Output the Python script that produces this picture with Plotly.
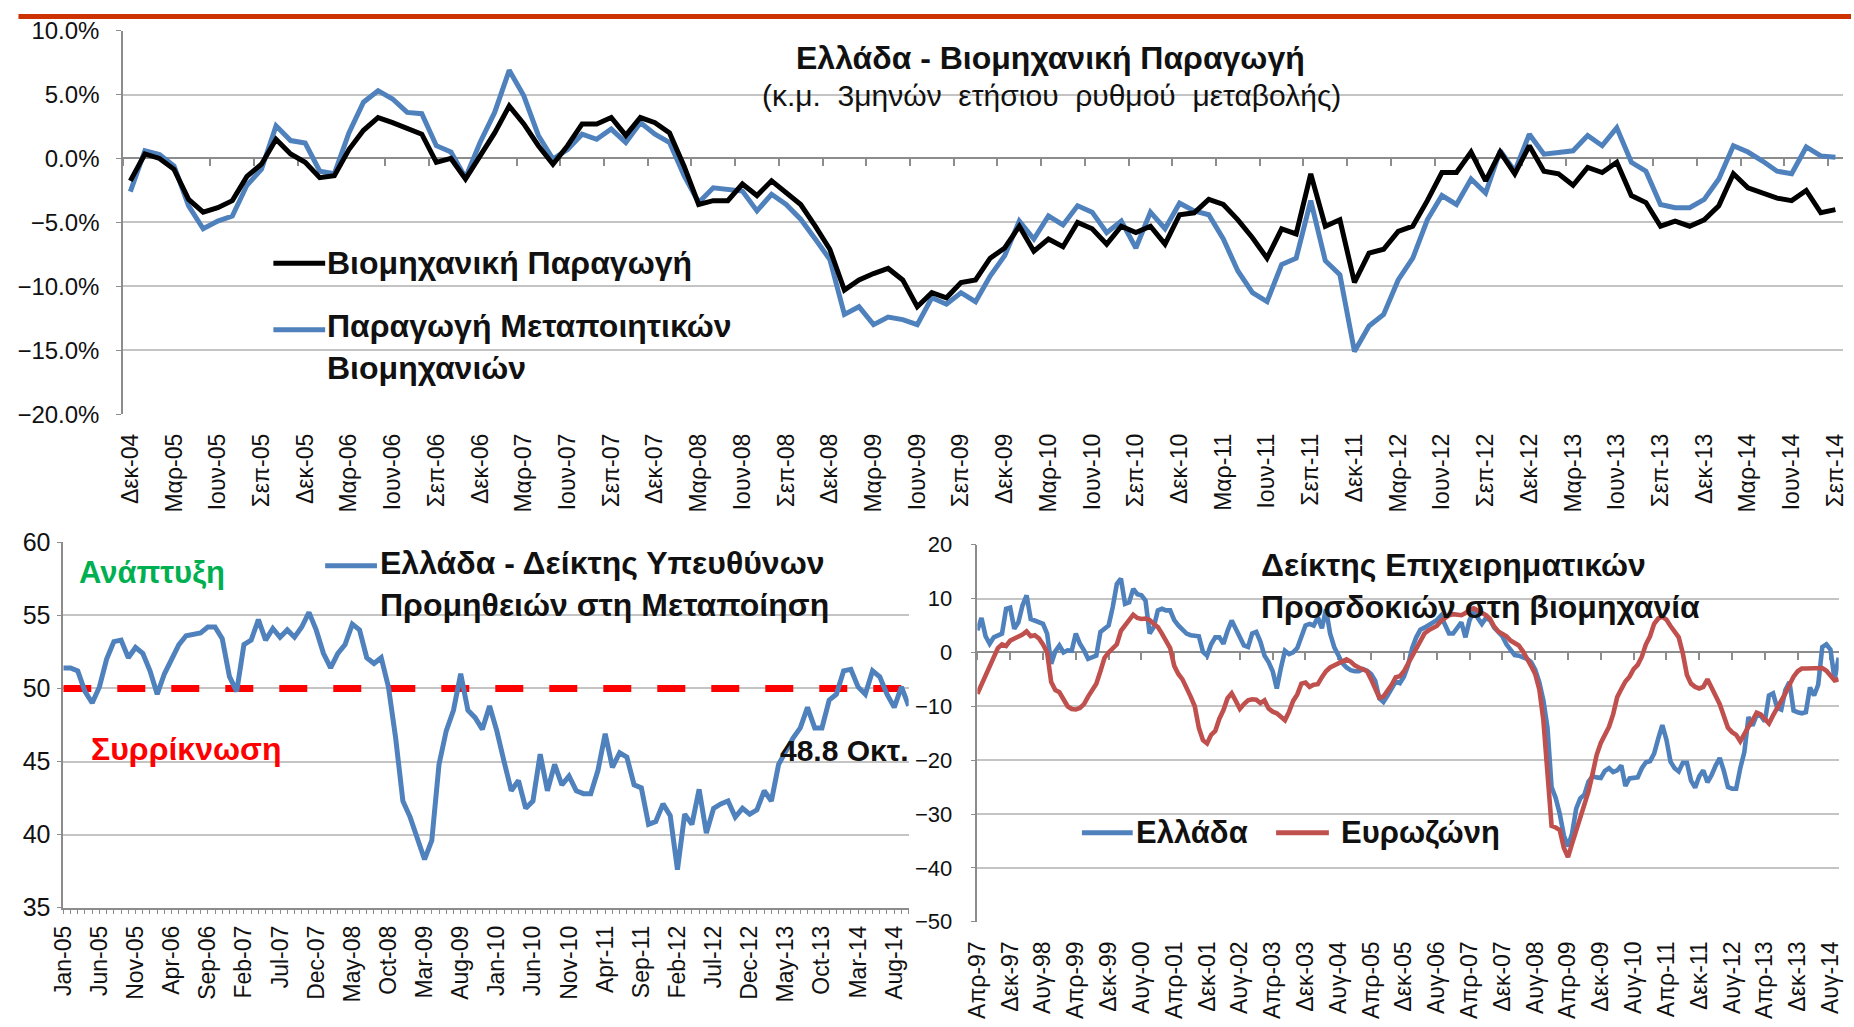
import plotly.graph_objects as go

# ---------------- DATA ----------------
# Top chart: monthly, Dec-04 .. Sep-14 (3-month moving average of y/y change, %)
top_labels = ["Δεκ-04", "Μαρ-05", "Ιουν-05", "Σεπ-05", "Δεκ-05", "Μαρ-06", "Ιουν-06", "Σεπ-06",
              "Δεκ-06", "Μαρ-07", "Ιουν-07", "Σεπ-07", "Δεκ-07", "Μαρ-08", "Ιουν-08", "Σεπ-08",
              "Δεκ-08", "Μαρ-09", "Ιουν-09", "Σεπ-09", "Δεκ-09", "Μαρ-10", "Ιουν-10", "Σεπ-10",
              "Δεκ-10", "Μαρ-11", "Ιουν-11", "Σεπ-11", "Δεκ-11", "Μαρ-12", "Ιουν-12", "Σεπ-12",
              "Δεκ-12", "Μαρ-13", "Ιουν-13", "Σεπ-13", "Δεκ-13", "Μαρ-14", "Ιουν-14", "Σεπ-14"]

ip_total = [-1.75, 0.35, 0.0, -0.85, -3.2, -4.2, -3.85, -3.3, -1.4, -0.45,
            1.5, 0.35, -0.3, -1.5, -1.35, 0.7, 2.2, 3.2, 2.8, 2.3,
            1.9, -0.3, 0.0, -1.6, 0.2, 2.0, 4.1, 2.7, 1.0, -0.45,
            1.0, 2.7, 2.7, 3.2, 1.8, 3.2, 2.8, 2.0, -0.6, -3.6,
            -3.3, -3.3, -2.0, -2.9, -1.75, -2.7, -3.6, -5.3, -7.1, -10.3,
            -9.5, -9.0, -8.6, -9.5, -11.6, -10.5, -10.9, -9.7, -9.5, -7.8,
            -7.0, -5.3, -7.25, -6.3, -6.9, -5.0, -5.5, -6.7, -5.3, -5.8,
            -5.3, -6.7, -4.4, -4.25, -3.2, -3.6, -4.8, -6.2, -7.8, -5.5,
            -5.9, -1.2, -5.3, -4.8, -9.7, -7.4, -7.1, -5.7, -5.3, -3.3,
            -1.1, -1.1, 0.5, -1.75, 0.5, -1.2, 1.0, -1.0, -1.2, -2.1,
            -0.7, -1.1, -0.3, -2.9, -3.45, -5.3, -4.9, -5.3, -4.8, -3.7,
            -1.2, -2.3, -2.7, -3.1, -3.3, -2.5, -4.25, -4.0]

ip_manuf = [-2.6, 0.6, 0.3, -0.6, -3.7, -5.5, -4.9, -4.5, -2.1, -0.85,
            2.55, 1.4, 1.2, -1.0, -1.2, 2.0, 4.4, 5.3, 4.65, 3.6,
            3.5, 1.0, 0.5, -1.5, 1.25, 3.6, 6.9, 4.9, 1.8, -0.05,
            0.7, 1.9, 1.5, 2.3, 1.25, 2.8, 1.9, 1.25, -1.35, -3.45,
            -2.3, -2.4, -2.55, -4.1, -2.8, -3.6, -4.75, -6.3, -7.9, -12.2,
            -11.6, -13.0, -12.4, -12.6, -13.0, -10.9, -11.4, -10.5, -11.2, -9.2,
            -7.6, -4.9, -6.3, -4.5, -5.2, -3.7, -4.2, -5.8, -4.9, -7.0,
            -4.2, -5.5, -3.5, -4.1, -4.4, -6.3, -8.8, -10.5, -11.2, -8.3,
            -7.8, -3.3, -8.0, -9.1, -15.1, -13.1, -12.2, -9.5, -7.8, -4.8,
            -2.9, -3.6, -1.6, -2.7, 0.6, -1.0, 1.9, 0.34, 0.5, 0.6,
            1.8, 1.0, 2.4, -0.3, -1.0, -3.6, -3.85, -3.85, -3.2, -1.6,
            1.0, 0.5, -0.2, -1.0, -1.2, 0.9, 0.2, 0.1]

# Bottom-left: Greece manufacturing PMI, monthly Jan-05 .. Oct-14
pmi_labels = ["Jan-05", "Jun-05", "Nov-05", "Apr-06", "Sep-06", "Feb-07", "Jul-07", "Dec-07",
              "May-08", "Oct-08", "Mar-09", "Aug-09", "Jan-10", "Jun-10", "Nov-10", "Apr-11",
              "Sep-11", "Feb-12", "Jul-12", "Dec-12", "May-13", "Oct-13", "Mar-14", "Aug-14"]
pmi_values = [51.4, 51.4, 51.2, 49.8, 49.0, 50.1, 52.0, 53.2, 53.3, 52.1,
              52.8, 52.4, 51.2, 49.6, 51.0, 52.0, 53.0, 53.6, 53.7, 53.8,
              54.2, 54.2, 53.4, 50.8, 49.8, 53.0, 53.3, 54.7, 53.3, 54.1,
              53.5, 54.0, 53.5, 54.2, 55.2, 54.0, 52.4, 51.4, 52.4, 53.0,
              54.4, 54.0, 52.1, 51.7, 52.1, 50.1, 46.6, 42.3, 41.2, 39.8,
              38.3, 39.6, 44.8, 47.1, 48.5, 51.0, 48.5, 48.0, 47.2, 48.8,
              47.1, 45.0, 43.0, 43.7, 41.8, 42.3, 45.5, 43.0, 44.8, 43.4,
              44.0, 43.0, 42.8, 42.8, 44.4, 46.9, 44.6, 45.6, 45.3, 43.4,
              43.2, 40.7, 40.9, 42.1, 41.3, 37.6, 41.4, 40.7, 43.1, 40.1,
              41.8, 42.1, 42.3, 41.2, 41.8, 41.4, 41.7, 43.0, 42.3, 44.8,
              45.7, 46.6, 47.3, 48.7, 47.3, 47.3, 49.2, 49.6, 51.2, 51.3,
              50.1, 49.6, 51.2, 50.8, 49.6, 48.7, 50.1, 48.8]
pmi_threshold = 50

# Bottom-right: industrial confidence, monthly Apr-97 .. Oct-14
esi_labels = ["Απρ-97", "Δεκ-97", "Αυγ-98", "Απρ-99", "Δεκ-99", "Αυγ-00", "Απρ-01", "Δεκ-01",
              "Αυγ-02", "Απρ-03", "Δεκ-03", "Αυγ-04", "Απρ-05", "Δεκ-05", "Αυγ-06", "Απρ-07",
              "Δεκ-07", "Αυγ-08", "Απρ-09", "Δεκ-09", "Αυγ-10", "Απρ-11", "Δεκ-11", "Αυγ-12",
              "Απρ-13", "Δεκ-13", "Αυγ-14"]
esi_greece = [4.1, 6.4, 3.0, 1.6, 2.8, 3.2, 3.5, 8.1, 8.3, 4.4,
              5.6, 8.7, 10.6, 6.2, 5.9, 5.6, 5.3, 3.5, -2.1, 0.2,
              1.3, 0.0, 0.4, 0.3, 3.5, 1.6, 0.4, -1.2, -0.8, -0.6,
              3.8, 4.4, 5.0, 8.4, 12.7, 13.7, 9.0, 9.3, 11.8, 10.8,
              10.6, 9.6, 3.5, 4.7, 7.8, 8.1, 7.8, 7.8, 6.0, 5.0,
              4.1, 3.5, 3.2, 3.2, 3.0, 0.1, -0.6, 1.5, 2.8, 2.8,
              1.6, 4.0, 5.9, 4.4, 3.0, 1.3,
              1.0, 3.5, 3.8, 2.0, -0.6, -1.8, -3.5, -6.7, -2.9, 0.3,
              -0.3, 0.0, 0.8, 2.8, 5.0, 5.3, 5.0, 6.5, 4.5, 8.0,
              3.5, 1.0, -0.6, -2.0, -2.8, -3.3, -3.5, -3.5, -3.1, -3.4,
              -4.0, -5.3, -8.5, -9.2, -8.0, -6.5, -5.4, -5.7, -4.5, -2.4,
              0.8, 2.8, 4.2, 4.6, 5.0, 5.6, 6.0, 6.8, 5.0, 3.5,
              3.5, 4.6, 5.6, 2.8, 6.0, 7.5, 6.5, 5.3, 6.4, 6.0,
              4.6, 3.8, 3.0, 1.5, 0.5, -0.5, -0.6, -0.8, -1.2, -1.8,
              -3.2, -5.5, -8.9, -14.0,
              -25.0, -27.0, -30.0, -34.0, -36.0, -33.6, -29.0, -27.1, -26.4, -24.0,
              -23.0, -23.2, -23.3, -22.0, -21.5, -22.2, -21.9, -21.0, -24.8, -23.4,
              -23.2, -23.2, -21.5, -20.4, -20.2, -18.8, -16.0, -13.5, -16.2, -20.3,
              -21.5, -22.1, -20.5, -20.5, -23.8, -25.1, -23.0, -21.9, -24.1, -22.8,
              -21.0, -19.6, -22.0, -25.0, -25.3, -25.3, -21.5, -18.5, -12.0, -13.6,
              -11.6, -11.8, -12.8, -8.0, -7.6, -10.3, -10.6, -7.0, -5.5, -10.8,
              -11.1, -11.3, -11.1, -6.5, -8.0, -6.0, 1.0, 1.5, 0.5, -5.0, -1.0]
esi_euro = [-7.7, -6.0, -4.0, -2.2, -0.5, 0.8, 1.5, 1.2, 2.2, 2.6,
            2.8, 3.3, 3.9, 3.0, 3.2, 2.6, 1.5, 0.0, -5.5, -7.0,
            -7.4, -8.6, -10.0, -10.5, -10.6, -10.3, -9.6, -8.2, -7.0, -5.8,
            -3.5, -1.0, 0.0, 0.8, 1.5, 4.0, 5.0, 5.8, 7.0, 6.4,
            6.2, 6.3, 6.0, 5.3, 4.7, 3.5, 2.0, 0.8, -2.5, -4.0,
            -5.0, -6.5, -8.2, -10.0, -14.0, -16.3, -16.9, -15.3, -14.6, -12.3,
            -10.7, -8.5, -7.6, -9.0, -10.5, -9.6,
            -8.9, -8.7, -8.8, -9.4, -8.9, -10.4, -11.0, -11.3, -11.9, -12.6,
            -11.0, -9.0, -7.8, -5.8, -5.6, -6.4, -6.0, -5.9, -4.6, -3.5,
            -2.8, -2.4, -2.1, -1.5, -1.3, -1.7, -2.4, -2.8, -3.1, -3.5,
            -5.0, -6.5, -8.4, -8.2, -7.2, -6.0, -4.6, -4.4, -3.5, -2.1,
            -0.5, 1.0, 2.5, 3.5, 4.1, 4.5, 4.9, 5.8, 6.4, 6.9,
            7.1, 7.0, 6.9, 7.3, 7.9, 8.2, 7.8, 7.4, 6.9, 6.2,
            4.8, 3.9, 3.4, 3.0, 2.2, 1.7, 1.3, 0.2, -1.0, -2.5,
            -4.0, -6.8, -12.6, -22.0,
            -32.2, -32.5, -33.0, -36.3, -38.0, -35.5, -33.0, -30.8, -28.5, -25.8,
            -22.5, -19.0, -16.8, -15.3, -13.8, -11.5, -8.3, -6.8, -5.4, -4.5,
            -3.1, -2.3, -0.8, 1.5, 3.0, 5.3, 6.3, 6.6, 6.1, 4.9,
            3.8, 2.8, -0.2, -4.2, -5.8, -6.4, -6.7, -6.4, -5.0, -6.5,
            -7.8, -9.6, -11.8, -14.0, -14.8, -15.3, -16.5, -15.0, -13.8, -12.6,
            -11.2, -11.5, -12.5, -13.2, -11.7, -10.4, -9.2, -7.6, -6.0, -4.5,
            -3.5, -3.0, -3.0, -3.0, -3.0, -2.8, -2.9, -3.4, -4.2, -5.2, -5.0]

# ---------------- STYLE / GEOMETRY ----------------
# Target positions below are in pixels of the 1854x1027 picture; they are mapped
# to figure pixels with the offset/scale observed between page and picture.
FW, FH = 1856, 1043
OX, SX = 9.5, 0.994
OY, SY = 13.4, 0.973

def px(x):
    return ((x - OX) / SX) / FW
def py(y):
    return 1 - ((y - OY) / SY) / FH

FONT = "Liberation Sans, Arial, sans-serif"
BLUE = "#4F81BD"
RED = "#C0504D"
BLACK = "#000000"
GRID = "#C4C4C4"
AXIS = "#8C8C8C"
TXT = "#111111"

fig = go.Figure()

# top chart traces
xt = list(range(len(ip_total)))
fig.add_trace(go.Scatter(x=xt, y=ip_manuf, mode="lines", line=dict(color=BLUE, width=5),
                         name="Παραγωγή Μεταποιητικών Βιομηχανιών", xaxis="x", yaxis="y", showlegend=False))
fig.add_trace(go.Scatter(x=xt, y=ip_total, mode="lines", line=dict(color=BLACK, width=5),
                         name="Βιομηχανική Παραγωγή", xaxis="x", yaxis="y", showlegend=False))
fig.add_trace(go.Scatter(x=[None], y=[None], xaxis="x4", yaxis="y", showlegend=False, hoverinfo="skip"))

# bottom-left traces
xp = list(range(len(pmi_values)))
fig.add_trace(go.Scatter(x=[xp[0], xp[-1]], y=[pmi_threshold, pmi_threshold], mode="lines",
                         line=dict(color="#FF0000", width=7, dash="28px,26px"),
                         xaxis="x2", yaxis="y2", showlegend=False, hoverinfo="skip"))
fig.add_trace(go.Scatter(x=xp, y=pmi_values, mode="lines", line=dict(color=BLUE, width=5),
                         name="Ελλάδα - Δείκτης Υπευθύνων Προμηθειών στη Μεταποίηση",
                         xaxis="x2", yaxis="y2", showlegend=False))

# bottom-right traces
xe = list(range(len(esi_greece)))
fig.add_trace(go.Scatter(x=xe, y=esi_greece, mode="lines", line=dict(color=BLUE, width=4.6),
                         name="Ελλάδα", xaxis="x3", yaxis="y3", showlegend=False))
fig.add_trace(go.Scatter(x=xe, y=esi_euro, mode="lines", line=dict(color=RED, width=4.6),
                         name="Ευρωζώνη", xaxis="x3", yaxis="y3", showlegend=False))
fig.add_trace(go.Scatter(x=[None], y=[None], xaxis="x5", yaxis="y3", showlegend=False, hoverinfo="skip"))

tickfont_x = dict(family=FONT, size=23, color=TXT)

# geometry (picture pixels)
top_l, top_r, top_t, top_b = 119, 1846, 30, 413.5
bl_l, bl_r, bl_t, bl_b = 59, 908, 541.5, 907
br_l, br_r, br_t, br_b = 977, 1842, 544, 921

def ypos(val, lo, hi, t, b):
    frac = (val - lo) / (hi - lo)
    return py(b) + frac * (py(t) - py(b))

fig.update_layout(
    width=FW, height=FH, margin=dict(l=0, r=0, t=0, b=0),
    paper_bgcolor="white", plot_bgcolor="white",
    font=dict(family=FONT, color=TXT),
    showlegend=False,
    # ---- top chart ----
    xaxis=dict(domain=[px(top_l), px(top_r)], range=[-0.5, len(ip_total) - 0.5], anchor="y",
               tickmode="array", tickvals=list(range(0, len(ip_total), 3)), ticktext=top_labels,
               tickangle=-90, ticks="", showgrid=False, zeroline=False, showline=False,
               tickfont=tickfont_x, ticklabelstandoff=14, ticklabeloverflow="allow"),
    yaxis=dict(domain=[py(top_b), py(top_t)], range=[-20, 10], dtick=5, tick0=0, anchor="x",
               tickformat=".1f", ticksuffix="%", showgrid=True, gridcolor=GRID, gridwidth=1.5,
               zeroline=False, showline=True, linecolor=AXIS, linewidth=1.5,
               ticks="outside", ticklen=5, tickcolor=AXIS,
               tickfont=dict(family=FONT, size=24, color=TXT), ticklabelstandoff=12),
    xaxis4=dict(overlaying="x", anchor="free", position=ypos(0, -20, 10, top_t, top_b),
                domain=[px(top_l), px(top_r)], range=[-0.5, len(ip_total) - 0.5],
                tickmode="array", tickvals=[k - 0.5 for k in range(0, len(ip_total) + 1, 3)],
                ticks="outside", ticklen=7, tickcolor=AXIS, tickwidth=1.5, showticklabels=False,
                showline=True, linecolor=AXIS, linewidth=1.5, showgrid=False, zeroline=False,
                layer="below traces"),
    # ---- bottom-left chart ----
    xaxis2=dict(domain=[px(bl_l), px(bl_r)], range=[0, len(pmi_values) - 1], anchor="y2",
                tickmode="array", tickvals=list(range(0, len(pmi_values), 5)), ticktext=pmi_labels,
                tickangle=-90, ticks="outside", ticklen=5, tickcolor=AXIS,
                minor=dict(tickmode="linear", tick0=0, dtick=1, ticks="outside", ticklen=5,
                           tickcolor=AXIS, showgrid=False),
                showgrid=False, zeroline=False, showline=True, linecolor=AXIS, linewidth=1.5,
                tickfont=tickfont_x, ticklabelstandoff=2, ticklabeloverflow="allow"),
    yaxis2=dict(domain=[py(bl_b), py(bl_t)], range=[35, 60], dtick=5, tick0=0, anchor="x2",
                showgrid=True, gridcolor=GRID, gridwidth=1.5, zeroline=False,
                showline=True, linecolor=AXIS, linewidth=1.5, ticks="outside", ticklen=5,
                tickcolor=AXIS, tickfont=dict(family=FONT, size=25, color=TXT), ticklabelstandoff=1),
    # ---- bottom-right chart ----
    xaxis3=dict(domain=[px(br_l), px(br_r)], range=[0, len(esi_greece) - 1], anchor="y3",
                tickmode="array", tickvals=list(range(0, len(esi_greece), 8)), ticktext=esi_labels,
                tickangle=-90, ticks="", showgrid=False, zeroline=False, showline=False,
                tickfont=tickfont_x, ticklabelstandoff=14, ticklabeloverflow="allow"),
    yaxis3=dict(domain=[py(br_b), py(br_t)], range=[-50, 20], dtick=10, tick0=0, anchor="x3",
                showgrid=True, gridcolor=GRID, gridwidth=1.5, zeroline=False,
                showline=True, linecolor=AXIS, linewidth=1.5, ticks="outside", ticklen=5,
                tickcolor=AXIS, tickfont=dict(family=FONT, size=22, color=TXT), ticklabelstandoff=14),
    xaxis5=dict(overlaying="x3", anchor="free", position=ypos(0, -50, 20, br_t, br_b),
                domain=[px(br_l), px(br_r)], range=[0, len(esi_greece) - 1],
                tickmode="array", tickvals=list(range(0, len(esi_greece), 8)),
                ticks="outside", ticklen=7, tickcolor=AXIS, tickwidth=1.5, showticklabels=False,
                showline=True, linecolor=AXIS, linewidth=1.5, showgrid=False, zeroline=False,
                layer="below traces"),
)

shapes = [
    # red rule along the top of the page
    dict(type="line", xref="paper", yref="paper", x0=px(14), x1=1, y0=1 - 2.5 / FH, y1=1 - 2.5 / FH,
         line=dict(color="#CC3300", width=5)),
    # legend keys
    dict(type="line", xref="paper", yref="paper", x0=px(270), x1=px(322), y0=py(262.5), y1=py(262.5),
         line=dict(color=BLACK, width=5)),
    dict(type="line", xref="paper", yref="paper", x0=px(270), x1=px(322), y0=py(329), y1=py(329),
         line=dict(color=BLUE, width=5)),
    dict(type="line", xref="paper", yref="paper", x0=px(322), x1=px(374), y0=py(565), y1=py(565),
         line=dict(color=BLUE, width=5)),
    dict(type="line", xref="paper", yref="paper", x0=px(1082), x1=px(1133), y0=py(832), y1=py(832),
         line=dict(color=BLUE, width=5)),
    dict(type="line", xref="paper", yref="paper", x0=px(1277), x1=px(1330), y0=py(832), y1=py(832),
         line=dict(color=RED, width=5)),
]
fig.update_layout(shapes=shapes)

NB = "\u00a0"
def ann(text, x, y, size, xanchor="left", color=TXT, yanchor="middle", align="left"):
    return dict(text=text, x=px(x), y=py(y), xref="paper", yref="paper", showarrow=False,
                xanchor=xanchor, yanchor=yanchor, align=align,
                font=dict(family=FONT, size=size, color=color))

sub = (NB * 2).join(["(κ.μ.", "3μηνών", "ετήσιου", "ρυθμού", "μεταβολής)"])
annotations = [
    ann("<b>Ελλάδα - Βιομηχανική Παραγωγή</b>", 1050, 57, 32, xanchor="center", align="center"),
    ann(sub, 1051, 95, 30, xanchor="center", align="center"),
    ann("<b>Βιομηχανική Παραγωγή</b>", 322, 262.5, 32),
    ann("<b>Παραγωγή Μεταποιητικών<br>Βιομηχανιών</b>", 322, 346.5, 32),
    ann("<b>Ανάπτυξη</b>", 73, 572, 31, color="#00B050"),
    ann("<b>Ελλάδα - Δείκτης Υπευθύνων<br>Προμηθειών στη Μεταποίηση</b>", 375, 583.5, 32),
    ann("<b>Συρρίκνωση</b>", 85, 748, 32, color="#FF0000"),
    ann("<b>48.8 Οκτ.</b>", 777, 750, 30),
    ann("<b>Δείκτης Επιχειρηματικών<br>Προσδοκιών στη βιομηχανία</b>", 1260, 585, 32),
    ann("<b>Ελλάδα</b>", 1134, 832, 31),
    ann("<b>Ευρωζώνη</b>", 1340, 832, 31),
]
fig.update_layout(annotations=annotations)

fig.write_html("out.html", config={"displayModeBar": False},
               post_script="document.body.style.margin='0';document.body.style.overflow='hidden';")
